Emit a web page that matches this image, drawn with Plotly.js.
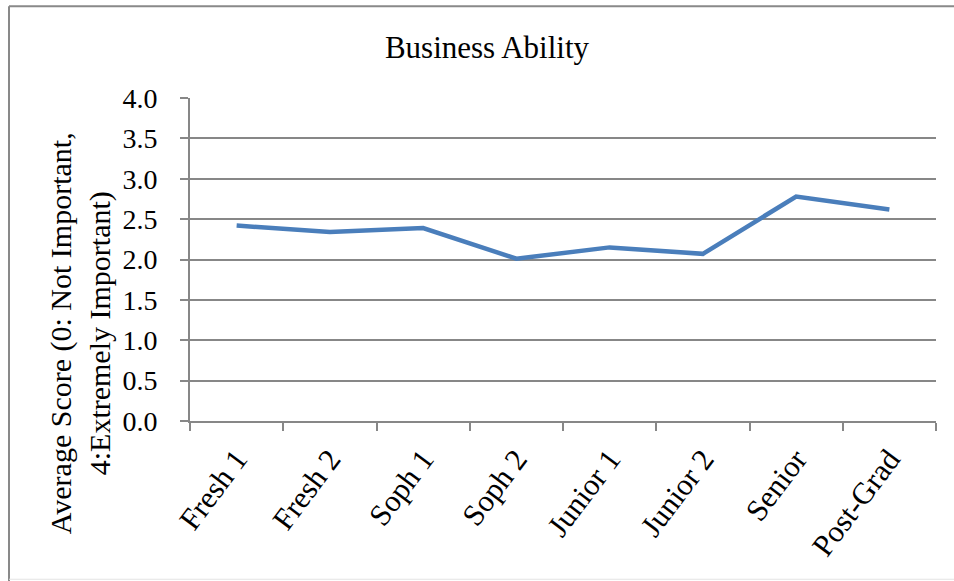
<!DOCTYPE html>
<html>
<head>
<meta charset="utf-8">
<script src="https://cdn.plot.ly/plotly-3.0.1.min.js"></script>
<style>html,body{margin:0;padding:0;background:#fff;}#chart{width:954px;height:581px;}</style>
</head>
<body>
<div id="chart"></div>
<script>
var categories = ["Fresh 1", "Fresh 2", "Soph 1", "Soph 2", "Junior 1", "Junior 2", "Senior", "Post-Grad"];
var scores = [2.42, 2.34, 2.39, 2.01, 2.15, 2.07, 2.78, 2.62];
var yTickValues = [0, 0.5, 1, 1.5, 2, 2.5, 3, 3.5, 4];
var yTickLabels = ["0.0", "0.5", "1.0", "1.5", "2.0", "2.5", "3.0", "3.5", "4.0"];
var chartTitle = "Business Ability";
var yTitleLines = ["Average Score (0: Not Important,", "4:Extremely Important)"];

var W = 954, H = 581;
var L = 190, R = 18, T = 98, B = 159.5;
var pw = W - L - R, ph = H - T - B;
function px(x) { return (x - L) / pw; }
function py(y) { return (H - B - y) / ph; }

var font = "'Liberation Serif', 'Times New Roman', serif";
var grey = "#878787";

var trace = {
  x: categories,
  y: scores,
  type: "scatter",
  mode: "lines",
  line: {color: "#4A7EBB", width: 4.5},
  hoverinfo: "x+y"
};

var layout = {
  width: W, height: H,
  margin: {l: L, r: R, t: T, b: B, pad: 0},
  paper_bgcolor: "#fff",
  plot_bgcolor: "#fff",
  showlegend: false,
  font: {family: font, color: "#000", size: 29},
  title: {
    text: chartTitle,
    font: {family: font, size: 31, color: "#000"},
    x: 487 / W, xref: "container", xanchor: "center",
    y: 1 - 47 / H, yref: "container", yanchor: "middle"
  },
  xaxis: {
    type: "category",
    range: [-0.5, categories.length - 0.5],
    tickson: "boundaries",
    ticks: "outside", ticklen: 8, tickwidth: 2, tickcolor: grey,
    showline: true, linecolor: grey, linewidth: 2,
    showgrid: false, zeroline: false,
    tickangle: -53,
    tickfont: {family: font, size: 30.5, color: "#000"},
    ticklabelstandoff: 6
  },
  yaxis: {
    range: [0, 4],
    tickvals: yTickValues,
    ticktext: yTickLabels,
    ticks: "outside", ticklen: 8, tickwidth: 2, tickcolor: grey,
    showline: true, linecolor: grey, linewidth: 2,
    showgrid: true, gridcolor: grey, gridwidth: 2,
    zeroline: false,
    tickfont: {family: font, size: 28, color: "#000"},
    ticklabelstandoff: 17
  },
  annotations: [{
    text: yTitleLines.join("<br>"),
    textangle: -90,
    xref: "paper", yref: "paper",
    x: px(80.5), y: py(334),
    xanchor: "center", yanchor: "middle",
    showarrow: false,
    font: {family: font, size: 30, color: "#000"}
  }],
  shapes: [
    {type: "line", xref: "paper", yref: "paper", x0: px(9), x1: px(960), y0: py(6), y1: py(6), line: {color: "#898989", width: 2}},
    {type: "line", xref: "paper", yref: "paper", x0: px(9), x1: px(9), y0: py(6), y1: py(585), line: {color: "#898989", width: 2}},
    {type: "line", xref: "paper", yref: "paper", x0: px(9), x1: px(960), y0: py(580), y1: py(580), line: {color: "#e3e3e3", width: 1}}
  ]
};

Plotly.newPlot("chart", [trace], layout, {displayModeBar: false, staticPlot: true});
</script>
</body>
</html>
